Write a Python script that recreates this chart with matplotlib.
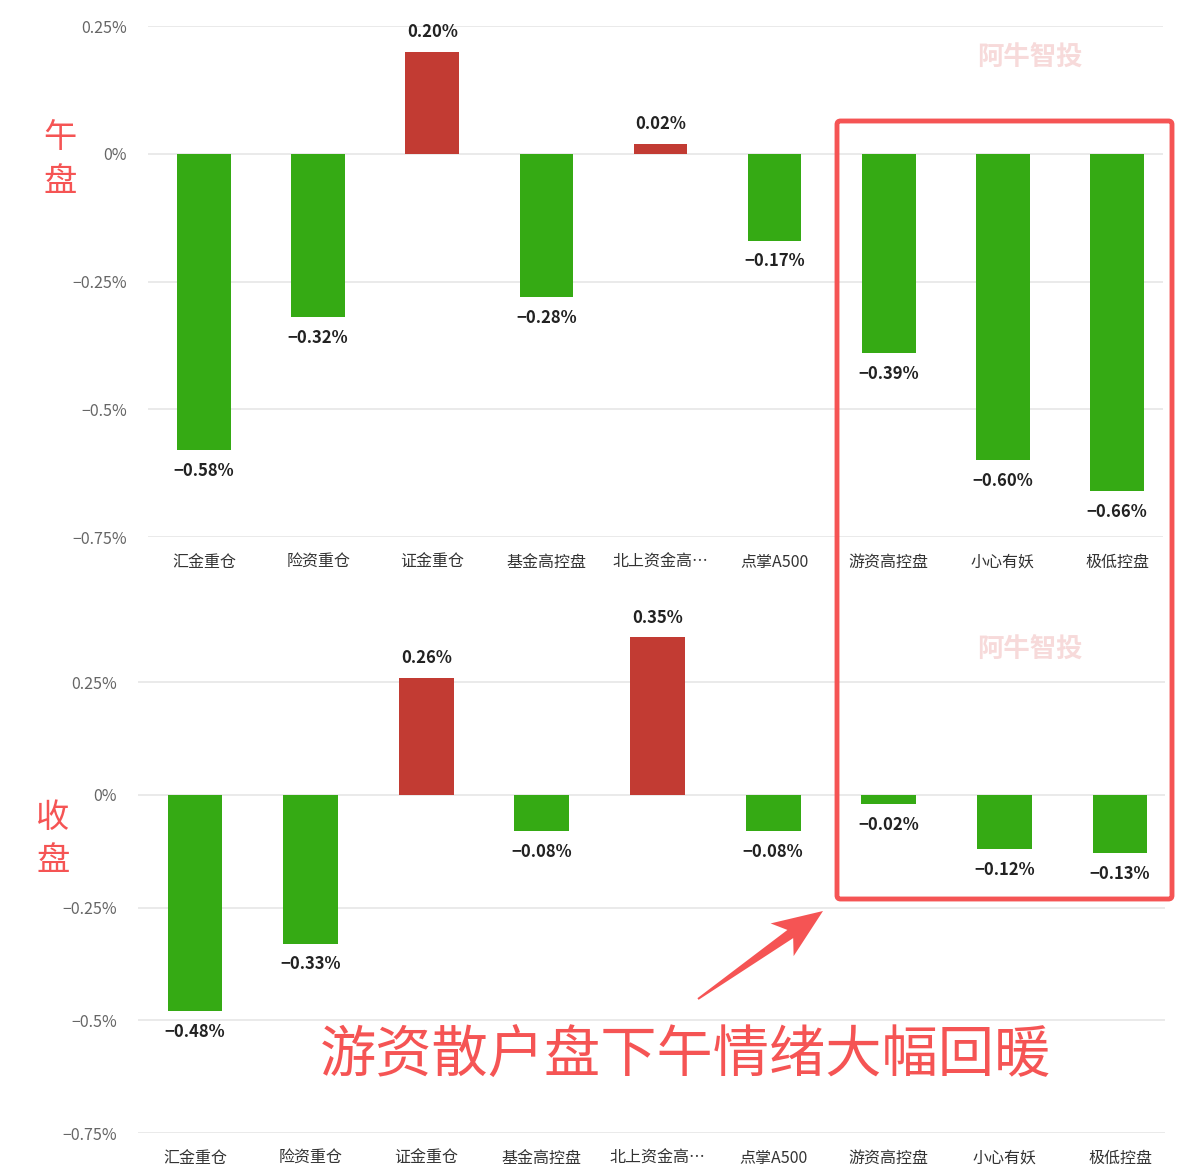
import matplotlib
matplotlib.use("Agg")
import matplotlib.pyplot as plt
import numpy as np
from matplotlib.patches import FancyBboxPatch, Polygon

plt.rcParams['font.family'] = ['Noto Sans CJK SC', 'DejaVu Sans']

categories = ["汇金重仓", "险资重仓", "证金重仓", "基金高控盘", "北上资金高…",
              "点掌A500", "游资高控盘", "小心有妖", "极低控盘"]
noon_values = [-0.58, -0.32, 0.20, -0.28, 0.02, -0.17, -0.39, -0.60, -0.66]
close_values = [-0.48, -0.33, 0.26, -0.08, 0.35, -0.08, -0.02, -0.12, -0.13]
y_ticks = [0.25, 0, -0.25, -0.5, -0.75]
y_tick_labels = ["0.25%", "0%", "\u22120.25%", "\u22120.5%", "\u22120.75%"]

GREEN = "#35aa14"
RED = "#c23b33"
ACCENT = "#f55454"

W, H = 1178, 1174
fig = plt.figure(figsize=(W / 100, H / 100), dpi=100)


def px_axes(left, right, top, bottom):
    return fig.add_axes([left / W, 1 - bottom / H, (right - left) / W, (bottom - top) / H])


def fmt(v):
    s = "{0:.2f}%".format(abs(v))
    return ("\u2212" + s) if v < 0 else s


def draw_panel(ax, values, xlim, ylim, width):
    colors = [RED if v > 0 else GREEN for v in values]
    x = list(range(len(values)))
    ax.bar(x, values, width=width, color=colors, zorder=3)
    for xi, v in zip(x, values):
        off = 14 if v > 0 else -15
        ax.annotate(fmt(v), (xi, v), xytext=(0, off), textcoords="offset points",
                    ha="center", va="center", fontsize=12, color="#222222",
                    fontweight="bold")
    ax.set_xlim(*xlim)
    ax.set_ylim(*ylim)
    ax.set_yticks(y_ticks)
    ax.set_yticklabels(y_tick_labels, color="#666666", fontsize=11.5)
    ax.set_xticks(x)
    ax.set_xticklabels(categories, fontsize=11.5, color="#333333")
    ax.tick_params(axis="both", length=0)
    ax.tick_params(axis="y", pad=15)
    ax.tick_params(axis="x", pad=12)
    ax.grid(axis="y", color="#e6e6e6", linewidth=1.2, zorder=0)
    for s in ax.spines.values():
        s.set_visible(False)


ax1 = px_axes(148, 1163, 26, 537)
draw_panel(ax1, noon_values, (-0.491, 8.403), (-0.75, 0.25), 0.47)

ax2 = px_axes(138, 1165, 601, 1133)
draw_panel(ax2, close_values, (-0.493, 8.389), (-0.75, 0.43), 0.475)

# watermarks
for wy in [58, 650]:
    fig.text(1030 / W, 1 - wy / H, "阿牛智投", color="#f7dada", fontsize=19,
             fontweight="bold", ha="center", va="center")

# side labels
fig.text(60 / W, 1 - 137 / H, "午", color=ACCENT, fontsize=24, ha="center", va="center")
fig.text(60 / W, 1 - 181 / H, "盘", color=ACCENT, fontsize=24, ha="center", va="center")
fig.text(53 / W, 1 - 818 / H, "收", color=ACCENT, fontsize=24, ha="center", va="center")
fig.text(53 / W, 1 - 861 / H, "盘", color=ACCENT, fontsize=24, ha="center", va="center")

# highlight box
box = FancyBboxPatch((837 / W, 1 - 899 / H), (1172 - 837) / W, (899 - 121) / H,
                     boxstyle="round,pad=0,rounding_size=0.003", transform=fig.transFigure,
                     fill=False, edgecolor=ACCENT, linewidth=3.5)
fig.patches.append(box)

# tapered arrow (pixel coords, y down)
start = np.array([698.0, 999.0])
tip = np.array([823.0, 911.0])
u = (tip - start) / np.linalg.norm(tip - start)
n = np.array([-u[1], u[0]])
neck = tip - u * 40
barb = tip - u * 50
pts = [start + n * 1.0, neck + n * 5, barb + n * 20, tip,
       barb - n * 20, neck - n * 5, start - n * 1.0]
pts = [(p[0] / W, 1 - p[1] / H) for p in pts]
fig.patches.append(Polygon(pts, closed=True, transform=fig.transFigure,
                           facecolor=ACCENT, edgecolor="none"))

fig.text(685 / W, 1 - 1057 / H, "游资散户盘下午情绪大幅回暖", color=ACCENT, fontsize=40.5,
         ha="center", va="center")

fig.savefig("out.png", dpi=100, facecolor="white")
